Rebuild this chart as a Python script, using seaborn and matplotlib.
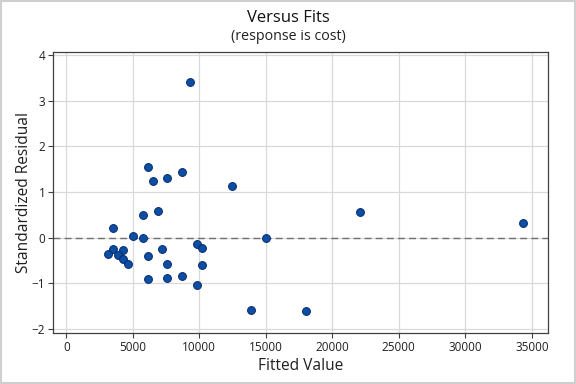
import numpy as np
import matplotlib
matplotlib.use("Agg")
import matplotlib.pyplot as plt
import seaborn as sns
import pandas as pd
from matplotlib.patches import Rectangle

# Fitted values and standardized residuals
fitted = [6170, 6550, 7600, 8730, 12470, 5800, 6900, 3520, 5050, 5800,
          3540, 4290, 3170, 3920, 4290, 4670, 6170, 7230, 7600, 9840,
          10230, 10230, 6170, 7600, 8730, 9840, 13900, 9310, 15020, 22110,
          34370, 18050]
std_resid = [1.55, 1.23, 1.31, 1.44, 1.12, 0.50, 0.58, 0.20, 0.04, 0.00,
             -0.24, -0.28, -0.37, -0.39, -0.48, -0.58, -0.41, -0.26, -0.57, -0.15,
             -0.23, -0.61, -0.91, -0.89, -0.85, -1.04, -1.59, 3.40, 0.00, 0.57,
             0.33, -1.60]

x_ticks = [0, 5000, 10000, 15000, 20000, 25000, 30000, 35000]
y_ticks = [-2, -1, 0, 1, 2, 3, 4]

df = pd.DataFrame({"fit": fitted, "resid": std_resid})

sns.set_style("white")
plt.rcParams["font.family"] = ["Open Sans", "DejaVu Sans"]

fig = plt.figure(figsize=(5.76, 3.84), dpi=100)
ax = fig.add_axes([0.092, 0.133, 0.859, 0.732])

ax.axhline(0, color="#707070", linestyle=(0, (5, 3)), linewidth=1.0, zorder=1)
sns.scatterplot(data=df, x="fit", y="resid", ax=ax, s=32,
                color="#0a4fa3", edgecolor="#0a2a6e", linewidth=0.7, zorder=3)

ax.set_xlim(-1000, 36200)
ax.set_ylim(-2.09, 4.07)
ax.set_xticks(x_ticks)
ax.set_yticks(y_ticks)
ax.grid(True, color="#d9d9d9", linewidth=0.9, zorder=0)
ax.set_axisbelow(True)

for sp in ax.spines.values():
    sp.set_color("#404040")
    sp.set_linewidth(0.9)
ax.tick_params(axis="both", direction="out", length=3.5, width=0.8,
               color="#404040", labelsize=8.5, labelcolor="#202020", pad=2,
               bottom=True, left=True)

ax.set_xlabel("Fitted Value", fontsize=11.2, color="#202020", labelpad=3)
ax.set_ylabel("Standardized Residual", fontsize=11.2, color="#202020")
ax.yaxis.set_label_coords(-0.042, 0.5)

fig.text(0.5, 0.942, "Versus Fits", ha="center", va="baseline", fontsize=12, color="#111111")
fig.text(0.5, 0.897, "(response is cost)", ha="center", va="baseline", fontsize=10.3, color="#222222")

fig.patches.append(Rectangle((0.002, 0.003), 0.996, 0.994, transform=fig.transFigure,
                             fill=False, edgecolor="#cfcfcf", linewidth=1.5))

fig.savefig("out.png", dpi=100)
